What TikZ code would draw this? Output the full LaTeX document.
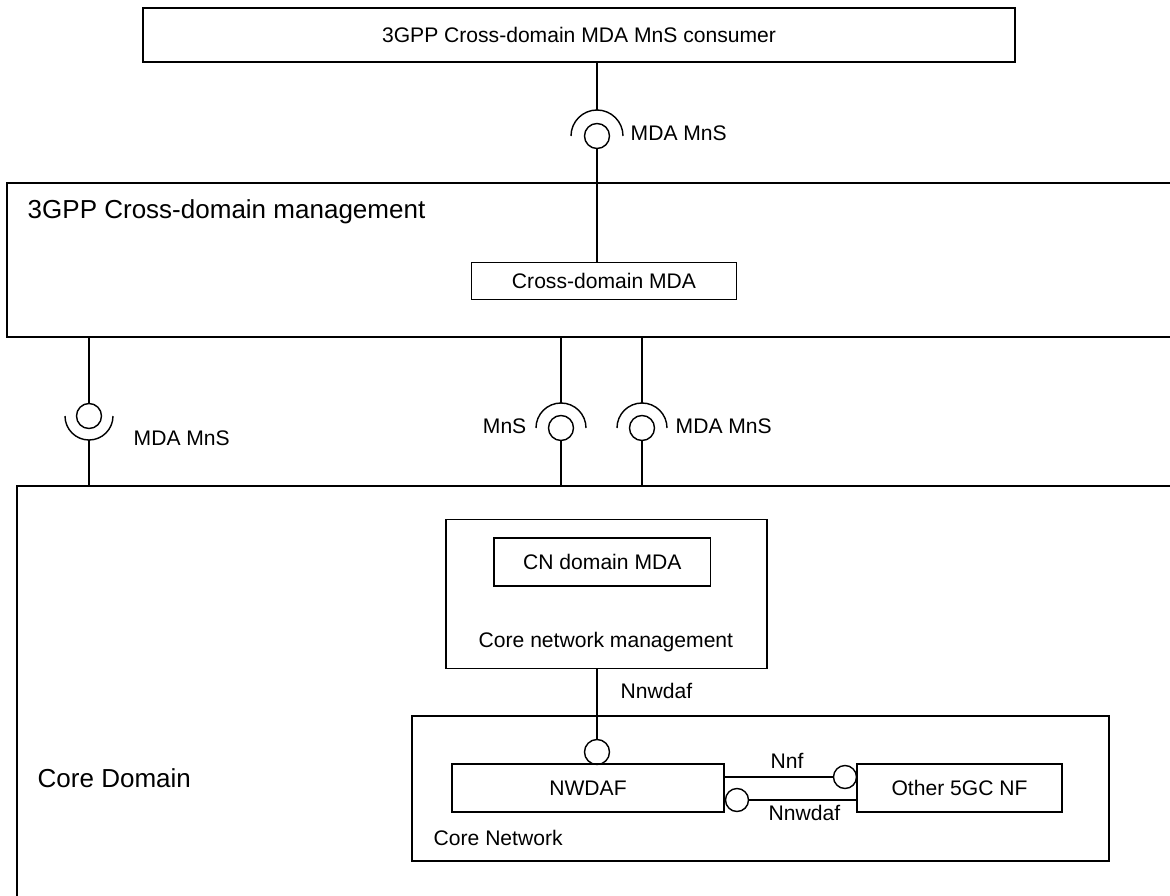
\documentclass[tikz,border=0pt]{standalone}
\usepackage{fontspec}
\setmainfont{Liberation Sans}
\usetikzlibrary{positioning}
\tikzstyle{box}=[rectangle, draw, line width=1pt, inner sep=0pt]
\tikzstyle{ball}=[circle, draw, line width=1pt, minimum size=0.625cm, inner sep=0pt]
\tikzstyle{lbl}=[inner sep=0pt, font=\fontsize{15}{18}\selectfont]
\tikzstyle{biglbl}=[inner sep=0pt, font=\fontsize{18.5}{22}\selectfont]

\begin{document}
\begin{tikzpicture}[x=0.025cm, y=-0.025cm, line width=1pt, font=\fontsize{15}{18}\selectfont]
  \useasboundingbox (0,0) rectangle (1170,895);

  % consumer on top
  \node[box, minimum width=21.8cm, minimum height=1.35cm] (cons) at (579,35) {3GPP Cross-domain MDA MnS consumer};

  % cross-domain management
  \draw (1175,183) -- (7,183) -- (7,337) -- (1175,337);
  \coordinate (mgmtS) at (7,337);
  \node[biglbl, anchor=base west] (mgmtl) at (27,218) {3GPP Cross-domain management};
  \node[box, minimum width=6.625cm, minimum height=0.925cm] (cdmda) at (604,281) {Cross-domain MDA};

  % core domain
  \draw (1175,486) -- (17,486) -- (17,900);
  \coordinate (coreN) at (17,486);
  \node[biglbl, anchor=base west] (corel) at (37,787) {Core Domain};

  \node[box, minimum width=8.025cm, minimum height=3.725cm] (cnm) at (606.5,594) {};
  \node[box, minimum width=5.42cm, minimum height=1.19cm] (cnmda) at (602.3,562) {CN domain MDA};
  \node[lbl, anchor=base west] (cnml) at (478,647) {Core network management};

  \node[box, minimum width=17.425cm, minimum height=3.625cm] (cn) at (760.5,788.5) {};
  \node[lbl, anchor=base west] (cnl) at (433,845) {Core Network};
  \node[box, minimum width=6.8cm, minimum height=1.2cm] (nwdaf) at (588,788) {NWDAF};
  \node[box, minimum width=5.125cm, minimum height=1.2cm] (onf) at (959.5,788) {Other 5GC NF};

  % MDA MnS towards the consumer
  \node[ball] (i0) at (597,136) {};
  \draw ([xshift=-0.65cm]i0.center) arc[start angle=180, end angle=0, radius=0.65cm];
  \draw (i0 |- cons.south) -- ([yshift=0.65cm]i0.center);
  \draw (i0.south) -- (i0 |- cdmda.north);
  \node[lbl, anchor=base west] (l0) at (630,140) {MDA MnS};

  % MDA MnS from the core domain
  \node[ball] (i1) at (89,416) {};
  \draw ([xshift=-0.6cm]i1.center) arc[start angle=180, end angle=360, radius=0.6cm];
  \draw (i1 |- mgmtS) -- (i1.north);
  \draw ([yshift=-0.6cm]i1.center) -- (i1 |- coreN);
  \node[lbl, anchor=base west] (l1) at (133,445) {MDA MnS};

  % MnS and MDA MnS towards the core domain
  \node[ball] (i2) at (561,428) {};
  \draw ([xshift=-0.625cm]i2.center) arc[start angle=180, end angle=0, radius=0.625cm];
  \draw (i2 |- mgmtS) -- ([yshift=0.625cm]i2.center);
  \draw (i2.south) -- (i2 |- coreN);
  \node[lbl, anchor=base east] (l2) at (527,433) {MnS};

  \node[ball] (i3) at (642,428) {};
  \draw ([xshift=-0.625cm]i3.center) arc[start angle=180, end angle=0, radius=0.625cm];
  \draw (i3 |- mgmtS) -- ([yshift=0.625cm]i3.center);
  \draw (i3.south) -- (i3 |- coreN);
  \node[lbl, anchor=base west] (l3) at (675,433) {MDA MnS};

  % Nnwdaf from core network management
  \node[ball] (i4) at (597,752) {};
  \draw (i4 |- cnm.south) -- (i4.north);
  \node[lbl, anchor=base west] (l4) at (620,698) {Nnwdaf};

  % Nnf and Nnwdaf between the NFs
  \node[ball, minimum size=0.575cm] (i5) at (845,777) {};
  \draw (nwdaf.east |- i5) -- (i5.west);
  \node[lbl, anchor=base west] (l5) at (770,768) {Nnf};

  \node[ball, minimum size=0.575cm] (i6) at (737,800) {};
  \draw (i6.east) -- (i6 -| onf.west);
  \node[lbl, anchor=base west] (l6) at (768,820) {Nnwdaf};
\end{tikzpicture}
\end{document}
